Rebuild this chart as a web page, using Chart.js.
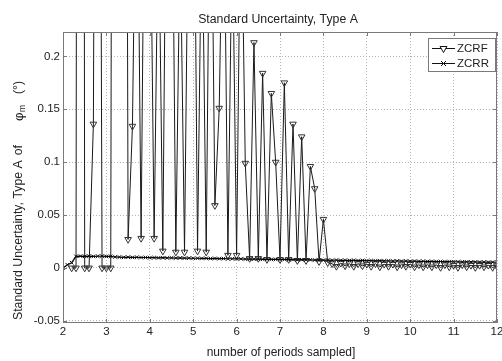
<!DOCTYPE html>
<html>
<head>
<meta charset="utf-8">
<script src="https://cdn.jsdelivr.net/npm/chart.js@4/dist/chart.umd.min.js"></script>
<style>
  html, body { margin: 0; padding: 0; background: #fff; }
  canvas { display: block; }
</style>
</head>
<body>
<canvas id="chart" width="502" height="361"></canvas>
<script>
// number of periods sampled
const periods = [
  2.0, 2.1, 2.2, 2.3, 2.4, 2.5, 2.6, 2.7, 2.8, 2.9, 3.0,
  3.1, 3.2, 3.3, 3.4, 3.5, 3.6, 3.7, 3.8, 3.9, 4.0,
  4.1, 4.2, 4.3, 4.4, 4.5, 4.6, 4.7, 4.8, 4.9, 5.0,
  5.1, 5.2, 5.3, 5.4, 5.5, 5.6, 5.7, 5.8, 5.9, 6.0,
  6.1, 6.2, 6.3, 6.4, 6.5, 6.6, 6.7, 6.8, 6.9, 7.0,
  7.1, 7.2, 7.3, 7.4, 7.5, 7.6, 7.7, 7.8, 7.9, 8.0,
  8.1, 8.2, 8.3, 8.4, 8.5, 8.6, 8.7, 8.8, 8.9, 9.0,
  9.1, 9.2, 9.3, 9.4, 9.5, 9.6, 9.7, 9.8, 9.9, 10.0,
  10.1, 10.2, 10.3, 10.4, 10.5, 10.6, 10.7, 10.8, 10.9, 11.0,
  11.1, 11.2, 11.3, 11.4, 11.5, 11.6, 11.7, 11.8, 11.9, 12.0
];

// ZCRF: values above the axis top run off the chart
const zcrf = [
  null, null, 0.000, 0.000, 3.0, 0.000, 0.000, 0.136, 1.2, 0.000, 0.000,
  0.000, 2.0, 2.5, 1.5, 0.027, 0.134, 0.45, 0.028, 0.5, 0.4,
  0.028, 0.35, 0.016, 0.5, 0.45, 0.015, 0.32, 0.015, 0.4, 0.5,
  0.016, 0.35, 0.015, 0.45, 0.059, 0.151, 0.4, 0.012, 0.33, 0.012,
  0.38, 0.099, 0.009, 0.213, 0.009, 0.184, 0.008, 0.165, 0.100, 0.008,
  0.175, 0.008, 0.136, 0.007, 0.124, 0.007, 0.096, 0.075, 0.006, 0.046,
  0.005, 0.004, 0.0015, 0.0045, 0.002, 0.004, 0.0015, 0.004, 0.002, 0.0035,
  0.0015, 0.004, 0.001, 0.0035, 0.0015, 0.0035, 0.001, 0.003, 0.0015, 0.0035,
  0.001, 0.003, 0.001, 0.003, 0.001, 0.003, 0.0005, 0.003, 0.001, 0.0025,
  0.0005, 0.003, 0.001, 0.0025, 0.0005, 0.0025, 0.001, 0.0025, 0.0005, 0.002
];

const zcrr = [
  0.000, 0.003, 0.005, 0.011, 0.0112, 0.011, 0.0112, 0.0109, 0.0111, 0.0112, 0.0109,
  0.0110, 0.0104, 0.0103, 0.0101, 0.0102, 0.0100, 0.0101, 0.0099, 0.0099, 0.0097,
  0.0098, 0.0096, 0.0097, 0.0095, 0.0096, 0.0094, 0.0095, 0.0093, 0.0093, 0.0092,
  0.0092, 0.0090, 0.0091, 0.0089, 0.0090, 0.0088, 0.0089, 0.0087, 0.0087, 0.0086,
  0.0086, 0.0084, 0.0085, 0.0083, 0.0084, 0.0082, 0.0082, 0.0081, 0.0081, 0.0080,
  0.0080, 0.0078, 0.0079, 0.0077, 0.0078, 0.0076, 0.0077, 0.0075, 0.0076, 0.0074,
  0.0075, 0.0073, 0.0074, 0.0072, 0.0073, 0.0071, 0.0072, 0.0070, 0.0071, 0.0069,
  0.0070, 0.0068, 0.0069, 0.0067, 0.0068, 0.0066, 0.0067, 0.0065, 0.0066, 0.0064,
  0.0065, 0.0063, 0.0063, 0.0062, 0.0062, 0.0061, 0.0061, 0.0060, 0.0060, 0.0059,
  0.0059, 0.0058, 0.0058, 0.0057, 0.0057, 0.0056, 0.0056, 0.0055, 0.0055, 0.0054
];

const xTicks = [2, 3, 4, 5, 6, 7, 8, 9, 10, 11, 12];
const yTicks = [-0.05, 0, 0.05, 0.1, 0.15, 0.2];
const seriesNames = ['ZCRF', 'ZCRR'];

const FONT = '"Liberation Sans", Arial, sans-serif';
const TEXT = '#222';

Chart.defaults.font.family = FONT;
Chart.defaults.font.size = 11;
Chart.defaults.color = TEXT;

function toPoints(ys) {
  return periods.map((p, i) => ({ x: p, y: ys[i] }));
}

// frame, titles and the inside legend, drawn on top of the chart
const decorations = {
  id: 'decorations',
  beforeDraw(chart) {
    const ctx = chart.ctx;
    ctx.save();
    ctx.fillStyle = '#fff';
    ctx.fillRect(0, 0, chart.width, chart.height);
    ctx.restore();
  },
  afterDraw(chart) {
    const { ctx, chartArea: a, scales } = chart;
    ctx.save();

    // axes box + small inner ticks
    ctx.strokeStyle = '#7a7a7a';
    ctx.lineWidth = 1;
    ctx.strokeRect(a.left + 0.5, a.top + 0.5, a.right - a.left - 1, a.bottom - a.top - 1);
    ctx.beginPath();
    xTicks.forEach(v => {
      const px = Math.round(scales.x.getPixelForValue(v)) + 0.5;
      ctx.moveTo(px, a.bottom); ctx.lineTo(px, a.bottom - 4);
      ctx.moveTo(px, a.top); ctx.lineTo(px, a.top + 4);
    });
    yTicks.forEach(v => {
      const py = Math.round(scales.y.getPixelForValue(v)) + 0.5;
      ctx.moveTo(a.left, py); ctx.lineTo(a.left + 4, py);
      ctx.moveTo(a.right, py); ctx.lineTo(a.right - 4, py);
    });
    ctx.stroke();

    // titles
    ctx.fillStyle = TEXT;
    ctx.font = '12.3px ' + FONT;
    ctx.textAlign = 'center';
    ctx.textBaseline = 'middle';
    ctx.fillText('Standard Uncertainty, Type A', (a.left + a.right) / 2 - 2, 20);
    ctx.font = '12px ' + FONT;
    ctx.fillText('number of periods sampled]', (a.left + a.right) / 2 + 1, 353);

    // y title with subscript
    ctx.save();
    ctx.translate(19, 320);
    ctx.rotate(-Math.PI / 2);
    ctx.textAlign = 'left';
    ctx.font = '12.3px ' + FONT;
    const main = 'Standard Uncertainty, Type A';
    ctx.fillText(main, 0, 0);
    ctx.fillText('of', ctx.measureText(main).width + 5, 0);
    ctx.font = '13px ' + FONT;
    ctx.fillText('\u03C6', 199, 0);
    const phiW = ctx.measureText('\u03C6').width;
    ctx.font = '8.5px ' + FONT;
    ctx.fillText('m', 199 + phiW + 0.5, 4);
    ctx.font = '12.3px ' + FONT;
    ctx.fillText('(\u00B0)', 226, 0);
    ctx.restore();

    // legend box
    const lx = 428.5, ly = 38.5, lw = 67, lh = 33;
    ctx.fillStyle = '#fff';
    ctx.fillRect(lx, ly, lw, lh);
    ctx.strokeStyle = '#7a7a7a';
    ctx.strokeRect(lx, ly, lw, lh);
    const rows = [48.5, 63.5];
    ctx.textAlign = 'left';
    rows.forEach((ry, i) => {
      ctx.strokeStyle = '#111';
      ctx.lineWidth = 1;
      ctx.beginPath();
      ctx.moveTo(432, ry); ctx.lineTo(455, ry);
      ctx.stroke();
      const cx = 443.5;
      ctx.beginPath();
      if (i === 0) {
        const r = 4;
        ctx.moveTo(cx, ry + r);
        ctx.lineTo(cx - r * 0.866, ry - r / 2);
        ctx.lineTo(cx + r * 0.866, ry - r / 2);
        ctx.closePath();
        ctx.fillStyle = '#fff';
        ctx.fill();
      } else {
        const r = 2.5;
        ctx.moveTo(cx - r, ry - r); ctx.lineTo(cx + r, ry + r);
        ctx.moveTo(cx - r, ry + r); ctx.lineTo(cx + r, ry - r);
      }
      ctx.stroke();
      ctx.fillStyle = TEXT;
      ctx.font = '11.5px ' + FONT;
      ctx.fillText(seriesNames[i], 457, ry + 0.5);
    });

    ctx.restore();
  }
};

new Chart(document.getElementById('chart'), {
  type: 'line',
  data: {
    datasets: [
      {
        label: seriesNames[0],
        data: toPoints(zcrf),
        order: 1,
        borderColor: '#1a1a1a',
        borderWidth: 1,
        tension: 0,
        spanGaps: false,
        pointStyle: 'triangle',
        rotation: 180,
        pointRadius: 3.8,
        pointBorderWidth: 1,
        pointBorderColor: '#333',
        pointBackgroundColor: 'rgba(255,255,255,0)'
      },
      {
        label: seriesNames[1],
        data: toPoints(zcrr),
        order: 0,
        borderColor: '#000',
        borderWidth: 1.2,
        tension: 0,
        pointStyle: 'crossRot',
        pointRadius: 2.5,
        pointBorderWidth: 1,
        pointBorderColor: '#111'
      }
    ]
  },
  options: {
    responsive: false,
    animation: false,
    devicePixelRatio: 1,
    layout: { padding: { top: 32, right: 2, bottom: 0, left: 0 } },
    plugins: {
      legend: { display: false },
      title: { display: false },
      tooltip: { enabled: false }
    },
    scales: {
      x: {
        type: 'linear',
        min: 2,
        max: 12,
        afterFit(scale) {
          scale.height = 38;
          scale.paddingLeft = 0;
          scale.paddingRight = 0;
        },
        ticks: { stepSize: 1, padding: 2, maxRotation: 0, color: TEXT, font: { size: 11.5 } },
        grid: { color: '#b5b5b5', lineWidth: 1, drawTicks: false },
        border: { display: false, dash: [1, 2] }
      },
      y: {
        type: 'linear',
        min: -0.052,
        max: 0.223,
        afterFit(scale) {
          scale.width = 63;
          scale.paddingTop = 0;
          scale.paddingBottom = 0;
        },
        ticks: {
          stepSize: 0.05,
          includeBounds: false,
          padding: 3,
          color: TEXT,
          font: { size: 11.5 },
          callback: v => String(Number(v.toFixed(2)))
        },
        grid: { color: '#b5b5b5', lineWidth: 1, drawTicks: false },
        border: { display: false, dash: [1, 2] }
      }
    }
  },
  plugins: [decorations]
});
</script>
</body>
</html>
